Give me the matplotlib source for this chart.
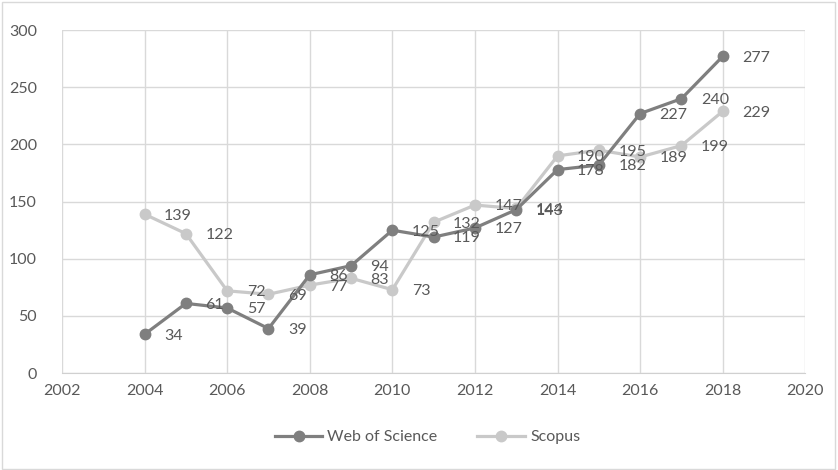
import matplotlib.pyplot as plt

years = [2004, 2005, 2006, 2007, 2008, 2009, 2010, 2011, 2012, 2013, 2014, 2015, 2016, 2017, 2018]
wos = [34, 61, 57, 39, 86, 94, 125, 119, 127, 143, 178, 182, 227, 240, 277]
scopus = [139, 122, 72, 69, 77, 83, 73, 132, 147, 144, 190, 195, 189, 199, 229]

plt.rcParams['font.family'] = ['Lato', 'DejaVu Sans']
txt = '#595959'

fig = plt.figure(figsize=(8.38, 4.70), dpi=100)
ax = fig.add_axes([0.074, 0.206, 0.887, 0.730])

# scopus first so web of science sits on top
series = [('Web of Science', wos, '#7f7f7f'), ('Scopus', scopus, '#c9c9c9')]
for name, vals, col in series[::-1]:
    ax.plot(years, vals, color=col, lw=2.3, marker='o', ms=7.5, label=name, zorder=3)
for name, vals, col in series:
    for x, y in zip(years, vals):
        ax.annotate(str(y), (x, y), xytext=(14, -1), textcoords='offset points',
                    va='center', ha='left', fontsize=11.5, color=txt, zorder=4)

ax.set_xlim(2002, 2020)
ax.set_ylim(0, 300)
ax.set_xticks(range(2002, 2021, 2))
ax.set_yticks(range(0, 301, 50))
ax.grid(True, color='#d9d9d9', lw=1)
ax.set_axisbelow(True)
for s in ['top', 'right', 'left']:
    ax.spines[s].set_visible(False)
ax.spines['bottom'].set_color('#d0d0d0')
ax.tick_params(length=0, labelsize=11.5, colors=txt)
ax.tick_params(axis='x', pad=8)
ax.tick_params(axis='y', pad=18)

handles, labels = ax.get_legend_handles_labels()
leg = fig.legend(handles[::-1], labels[::-1], loc='center', bbox_to_anchor=(0.51, 0.07),
                 ncol=2, frameon=False, fontsize=11.5, handlelength=3, columnspacing=2.5,
                 handletextpad=0.3)
for t in leg.get_texts():
    t.set_color(txt)

fig.patches.append(plt.Rectangle((0.002, 0.003), 0.995, 0.993, transform=fig.transFigure,
                                 fill=False, edgecolor='#d9d9d9', lw=1))

fig.savefig('out.png', dpi=100)
